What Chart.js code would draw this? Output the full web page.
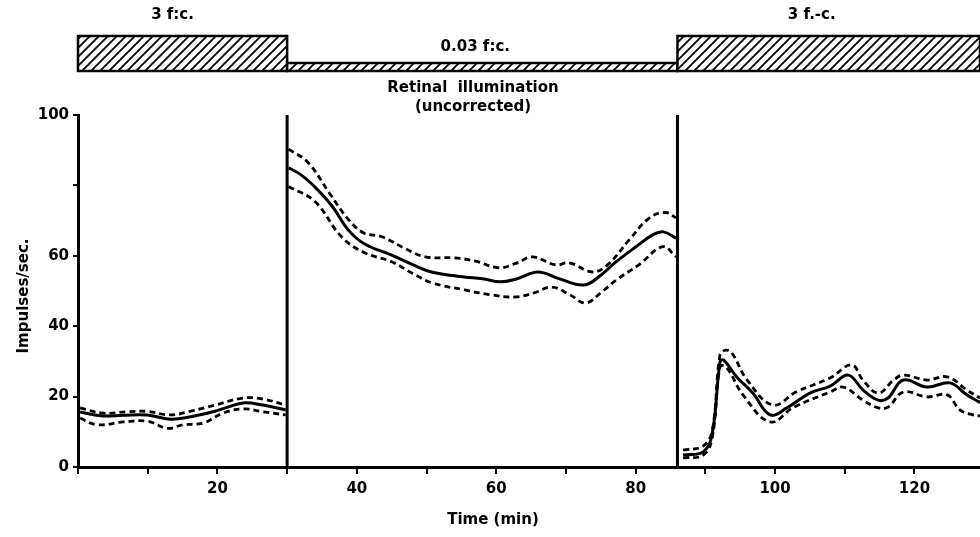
<!DOCTYPE html>
<html>
<head>
<meta charset="utf-8">
<script src="https://cdn.jsdelivr.net/npm/chart.js@4.4.0/dist/chart.umd.min.js"></script>
<style>
  html, body { margin: 0; padding: 0; background: #fff; }
  #wrap { width: 980px; height: 537px; }
</style>
</head>
<body>
<div id="wrap"><canvas id="chart" width="980" height="537"></canvas></div>
<script>
// light stimulus periods (minutes) and their labels
const stimStart = [0, 30, 86];
const stimEnd = [30, 86, 129.4];
const stimLabels = ["3 f:c.", "0.03 f:c.", "3 f.-c."];
const stimBright = [true, false, true];

// switch-over times, drawn as vertical lines
const switchTimes = [30, 86];

// tick marks, and which of them carry a label
const xTickValues = [0, 10, 20, 30, 40, 50, 60, 70, 80, 90, 100, 110, 120];
const xLabelled = [20, 40, 60, 80, 100, 120];
const yTickValues = [0, 20, 40, 60, 80, 100];
const yLabelled = [0, 20, 40, 60, 100];

// impulses/sec, [time, value] — first 3 f.c. period
const meanA = [[0.3,15.6],[3.6,14.5],[6.5,14.7],[9.9,14.8],[13.2,13.6],[16,14.2],[19.4,15.7],[21.5,17],[23.7,18.2],[26.5,17.6],[29.8,16.2]];
const upperA = [[0.3,16.8],[3.6,15.3],[7,15.7],[10,15.8],[13.2,14.8],[16.5,16],[19.5,17.5],[23.7,19.6],[26.5,19.3],[29.8,17.6]];
const lowerA = [[0.3,13.9],[2.7,12],[6.5,12.8],[10,13],[12.8,11],[15.1,12],[18,12.5],[20.8,15.3],[23.7,16.5],[26.5,15.7],[29.8,14.8]];

// 0.03 f.c. period
const meanB = [[30.2,85],[32,83],[34,79.5],[36.5,74],[38.7,67.5],[41,63.5],[45,60.2],[48,57.5],[50.7,55.4],[55.4,54],[58,53.5],[60.6,52.6],[63,53.5],[66,55.4],[69,53.5],[72.6,51.7],[75,54.5],[77,58],[80,62.5],[82.5,66],[84,66.8],[85.8,65]];
const upperB = [[30.2,90.3],[33,86.5],[36,78],[38.8,70.3],[41,66.5],[43.6,65.4],[47,62],[49.8,59.7],[54,59.4],[57,58.5],[60.4,56.6],[63,58],[65.2,59.7],[68.5,57.4],[70.5,58],[73.8,55.4],[76,57.5],[79.1,64.6],[82,70.8],[84.3,72.3],[85.8,70.8]];
const lowerB = [[30.2,79.7],[34,75.4],[37.8,65.4],[41.1,60.9],[45,58.3],[48,55],[50.8,52.3],[55.5,50.3],[59,49],[62.7,48.3],[65.5,49.5],[68,51.1],[70.5,49],[72.8,46.6],[75,49.5],[77.2,53.1],[80.5,57.5],[83.9,62.6],[85.8,59.7]];

// second 3 f.c. period
const meanC = [[86.8,3.4],[89.7,4.3],[91,9.7],[92.1,29.8],[92.6,30.4],[94.5,25.6],[96.8,21],[99.3,14.8],[101.7,16.8],[105,21],[107.9,23],[110.5,26.1],[112.6,21.9],[114.8,19],[116.2,19.6],[118.4,24.7],[121.8,22.7],[125.1,23.9],[127.5,20.5],[129.4,18.3]];
const upperC = [[86.8,4.8],[89.7,6],[91,10.5],[92.1,31.8],[92.9,33.2],[93.8,32.4],[96,24.7],[99.7,17.6],[103,21.3],[107.9,25.3],[111,29],[112.6,24.7],[114.8,21],[117,24.7],[118.4,26.1],[121.8,24.7],[124.7,25.6],[127.5,21.9],[129.4,19.6]];
const lowerC = [[86.8,2.6],[89.7,3.4],[91,8.5],[92.1,28.4],[93,28.4],[95.4,20.5],[99.3,12.8],[102.7,17],[107.9,21.3],[109.8,22.7],[112.6,19],[114.8,16.8],[116.2,17],[118.4,21.3],[121.8,19.9],[124.7,20.5],[126.5,16.2],[128.4,14.8],[129.4,14.5]];

const FONT = "'DejaVu Sans', sans-serif";
const toXY = (arr) => arr.map(([x, y]) => ({ x: x, y: y }));

function solid(arr) {
  return { data: toXY(arr), borderColor: "#000", borderWidth: 3, pointRadius: 0, tension: 0.4, fill: false };
}
function dashed(arr) {
  return { data: toXY(arr), borderColor: "#000", borderWidth: 2.8, borderDash: [6, 4], pointRadius: 0, tension: 0.4, fill: false };
}

const datasets = [
  solid(meanA), dashed(upperA), dashed(lowerA),
  solid(meanB), dashed(upperB), dashed(lowerB),
  solid(meanC), dashed(upperC), dashed(lowerC),
];
switchTimes.forEach((t) => {
  datasets.push({ data: [{ x: t, y: 0 }, { x: t, y: 100 }], borderColor: "#000", borderWidth: 3, pointRadius: 0, tension: 0 });
});

// diagonal hatching for the stimulus bar
function hatch() {
  const c = document.createElement("canvas");
  c.width = 9; c.height = 9;
  const g = c.getContext("2d");
  g.fillStyle = "#fff";
  g.fillRect(0, 0, 9, 9);
  g.strokeStyle = "#000";
  g.lineWidth = 1.8;
  g.beginPath();
  g.moveTo(-1, 10); g.lineTo(10, -1);
  g.moveTo(-5, 5); g.lineTo(5, -5);
  g.moveTo(4, 14); g.lineTo(14, 4);
  g.stroke();
  return g.createPattern(c, "repeat");
}

const annotations = {
  id: "annotations",
  afterDraw(chart) {
    const ctx = chart.ctx;
    const x = chart.scales.x;
    const pat = hatch();
    const labelShift = [-10, -7, -17];
    ctx.save();
    ctx.fillStyle = "#000";
    ctx.textAlign = "center";
    ctx.textBaseline = "middle";
    for (let i = 0; i < stimStart.length; i++) {
      const x0 = x.getPixelForValue(stimStart[i]);
      const x1 = Math.min(x.getPixelForValue(stimEnd[i]), 982);
      const top = stimBright[i] ? 36 : 63;
      const bottom = 71;
      ctx.fillStyle = pat;
      ctx.fillRect(x0, top, x1 - x0, bottom - top);
      ctx.strokeStyle = "#000";
      ctx.lineWidth = 2.5;
      ctx.strokeRect(x0, top, x1 - x0, bottom - top);
      ctx.fillStyle = "#000";
      ctx.font = "bold 15px " + FONT;
      const cx = (x0 + x1) / 2 + labelShift[i];
      ctx.fillText(stimLabels[i], cx, stimBright[i] ? 15 : 47);
    }
    ctx.font = "bold 15px " + FONT;
    ctx.fillText("Retinal  illumination", 473, 88);
    ctx.fillText("(uncorrected)", 473, 107);
    ctx.fillText("Time (min)", 493, 520);
    ctx.translate(24, 296);
    ctx.rotate(-Math.PI / 2);
    ctx.fillText("Impulses/sec.", 0, 0);
    ctx.restore();
  },
};

new Chart(document.getElementById("chart"), {
  type: "line",
  data: { datasets: datasets },
  options: {
    responsive: false,
    animation: false,
    devicePixelRatio: 1,
    layout: { padding: { top: 115, right: 0, left: 0, bottom: 0 } },
    plugins: { legend: { display: false }, tooltip: { enabled: false } },
    scales: {
      x: {
        type: "linear",
        min: 0,
        max: 129.4,
        afterFit: (s) => { s.height = 70; },
        afterBuildTicks: (s) => { s.ticks = xTickValues.map((v) => ({ value: v })); },
        border: { color: "#000", width: 3 },
        grid: { drawOnChartArea: false, drawTicks: true, tickLength: 7, color: "#000", lineWidth: 2 },
        ticks: {
          color: "#000",
          padding: 6,
          maxRotation: 0,
          autoSkip: false,
          font: { family: FONT, size: 15, weight: "bold" },
          callback: (v) => (xLabelled.includes(v) ? v : ""),
        },
      },
      y: {
        min: 0,
        max: 100,
        afterFit: (s) => { s.width = 78; },
        afterBuildTicks: (s) => { s.ticks = yTickValues.map((v) => ({ value: v })); },
        border: { color: "#000", width: 3 },
        grid: { drawOnChartArea: false, drawTicks: true, tickLength: 5, color: "#000", lineWidth: 2 },
        ticks: {
          color: "#000",
          padding: 4,
          autoSkip: false,
          font: { family: FONT, size: 15, weight: "bold" },
          callback: (v) => (yLabelled.includes(v) ? v : ""),
        },
      },
    },
  },
  plugins: [annotations],
});
</script>
</body>
</html>
